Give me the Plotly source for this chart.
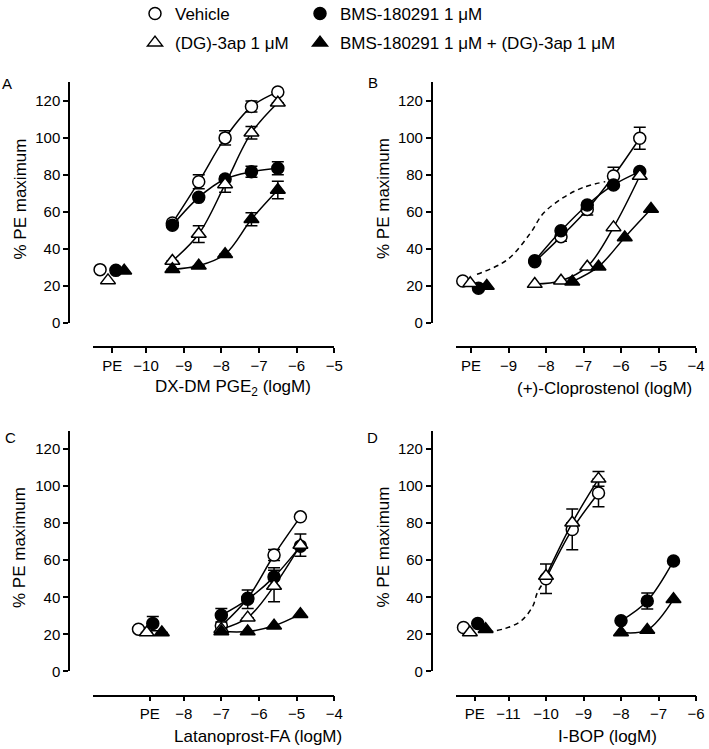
import plotly.graph_objects as go

W, H = 709, 749
FONT = "Liberation Sans, Arial, sans-serif"

# ---------------- data (x in log M, y in % PE maximum) ----------------
SERIES = ["Vehicle", "BMS-180291 1 μM", "(DG)-3ap 1 μM",
          "BMS-180291 1 μM + (DG)-3ap 1 μM"]

# Panel A: DX-DM PGE2
A_X = [-9.3, -8.6, -7.9, -7.2, -6.5]
A_PE_X = [-11.22, -10.80, -11.01, -10.58]      # vehicle, BMS, DG, BMS+DG
A_PE_Y = [28.8, 28.4, 23.0, 28.2]
A_VEH = [54.0, 76.2, 99.9, 116.8, 124.7]
A_VEH_E = [None, 3.8, 3.9, 3.0, None]
A_BMS = [52.7, 67.8, 77.7, 81.6, 83.5]
A_BMS_E = [None, None, None, 3.0, 3.5]
A_DG = [33.5, 48.0, 74.8, 102.7, 118.9]
A_DG_E = [None, 4.5, 4.2, 3.4, None]
A_CMB = [29.0, 30.9, 37.1, 56.0, 71.8]
A_CMB_E = [None, None, None, 3.5, 4.7]

# Panel B: (+)-Cloprostenol
B_X = [-8.3, -7.6, -6.9, -6.2, -5.5]
B_CMB_X = [-7.3, -6.6, -5.9, -5.2]
B_PE_X = [-10.22, -9.80, -10.02, -9.58]
B_PE_Y = [22.7, 18.7, 21.4, 20.0]
B_VEH = [33.0, 46.6, 61.3, 79.3, 99.7]
B_VEH_E = [None, 2.5, 3.0, 4.7, 6.0]
B_BMS = [33.6, 49.8, 63.7, 74.5, 81.7]
B_DG = [21.0, 22.8, 30.4, 51.6, 79.3]
B_CMB = [22.3, 30.4, 46.2, 61.5]
B_DASH_X = [-9.84, -9.04, -8.42, -8.07, -7.53, -7.0, -6.42]
B_DASH_Y = [26.3, 34.0, 48.4, 59.2, 67.8, 73.2, 76.3]

# Panel C: Latanoprost-FA
C_X = [-7.0, -6.3, -5.6, -4.9]
C_PE_X = [-9.2, -8.82, -8.98, -8.58]
C_PE_Y = [22.8, 25.8, 21.0, 21.0]
C_PE_E = [None, 3.8, None, None]
C_VEH = [24.6, 39.5, 62.8, 83.4]
C_VEH_E = [None, None, 3.0, None]
C_BMS = [30.3, 38.9, 51.0, 67.6]
C_BMS_E = [3.6, 5.0, 5.0, None]
C_DG = [22.8, 29.0, 46.1, 68.2]
C_DG_E = [None, None, 8.5, 6.0]
C_CMB = [21.5, 21.5, 24.6, 30.9]

# Panel D: I-BOP
D_X_OPEN = [-10.0, -9.3, -8.6]
D_X_FILLED = [-8.0, -7.3, -6.6]
D_PE_X = [-12.2, -11.82, -12.03, -11.61]
D_PE_Y = [23.7, 25.8, 21.0, 22.8]
D_VEH = [50.0, 76.6, 96.3]
D_VEH_E = [8.0, 11.0, 7.5]
D_BMS = [27.3, 38.0, 59.6]
D_BMS_E = [None, 4.3, None]
D_DG = [51.5, 80.2, 103.9]
D_DG_E = [None, None, 4.0]
D_CMB = [21.0, 22.4, 38.9]
D_DASH_X = [-11.55, -11.1, -10.66, -10.35, -10.23, -10.0]
D_DASH_Y = [21.3, 23.1, 27.3, 35.3, 42.5, 50.0]

# axis tick definitions
A_TICKS = [-10, -9, -8, -7, -6, -5]
B_TICKS = [-9, -8, -7, -6, -5, -4]
C_TICKS = [-8, -7, -6, -5, -4]
D_TICKS = [-11, -10, -9, -8, -7, -6]
PE_TICK = {"A": -10.9, "B": -10.0, "C": -8.9, "D": -11.9}
Y_TICKS = [0, 20, 40, 60, 80, 100, 120]

# ---------------- style ----------------
MARK = [
    dict(symbol="circle", color="white", size=12, line=dict(color="black", width=1.5)),
    dict(symbol="circle", color="black", size=12, line=dict(color="black", width=1.5)),
    dict(symbol="triangle-up", color="white", size=13, line=dict(color="black", width=1.5)),
    dict(symbol="triangle-up", color="black", size=13, line=dict(color="black", width=1.5)),
]


def px(v):
    """pixel x -> paper fraction"""
    return v / W


def py(v):
    """pixel y (from top) -> paper fraction"""
    return 1 - v / H


fig = go.Figure()


def err(vals):
    if vals is None:
        return None
    return dict(type="data", array=vals, visible=True, color="black",
                thickness=1.5, width=6)


def curve(ax, x, y, k, e=None, line=True):
    fig.add_trace(go.Scatter(
        x=x, y=y, xaxis="x" + ax, yaxis="y" + ax,
        mode="lines+markers" if line else "markers",
        line=dict(color="black", width=1.5, shape="spline"),
        marker=MARK[k], error_y=err(e), cliponaxis=False,
        showlegend=False, hoverinfo="x+y"))


def dashed(ax, x, y):
    fig.add_trace(go.Scatter(
        x=x, y=y, xaxis="x" + ax, yaxis="y" + ax, mode="lines",
        line=dict(color="black", width=1.5, dash="5px,4px", shape="spline"),
        showlegend=False, hoverinfo="skip"))


panels = {
    "": dict(pe_x=A_PE_X, pe_y=A_PE_Y, pe_e=None,
             ys=[A_VEH, A_BMS, A_DG, A_CMB], es=[A_VEH_E, A_BMS_E, A_DG_E, A_CMB_E],
             xs=[A_X, A_X, A_X, A_X]),
    "2": dict(pe_x=B_PE_X, pe_y=B_PE_Y, pe_e=None,
              ys=[B_VEH, B_BMS, B_DG, B_CMB], es=[B_VEH_E, None, None, None],
              xs=[B_X, B_X, B_X, B_CMB_X]),
    "3": dict(pe_x=C_PE_X, pe_y=C_PE_Y, pe_e=C_PE_E,
              ys=[C_VEH, C_BMS, C_DG, C_CMB], es=[C_VEH_E, C_BMS_E, C_DG_E, None],
              xs=[C_X, C_X, C_X, C_X]),
    "4": dict(pe_x=D_PE_X, pe_y=D_PE_Y, pe_e=None,
              ys=[D_VEH, D_BMS, D_DG, D_CMB], es=[D_VEH_E, D_BMS_E, D_DG_E, None],
              xs=[D_X_OPEN, D_X_FILLED, D_X_OPEN, D_X_FILLED]),
}

dashed("2", B_DASH_X, B_DASH_Y)
dashed("4", D_DASH_X, D_DASH_Y)

for ax, p in panels.items():
    for k in range(4):
        pe_e = None if p["pe_e"] is None else [p["pe_e"][k]]
        curve(ax, [p["pe_x"][k]], [p["pe_y"][k]], k, pe_e, line=False)
        curve(ax, p["xs"][k], p["ys"][k], k, p["es"][k])

# legend-only entries
for k in range(4):
    fig.add_trace(go.Scatter(
        x=[None], y=[None], mode="markers", marker=MARK[k], name=SERIES[k],
        legend="legend" if k in (0, 2) else "legend2",
        legendgroup="g%d" % k, showlegend=True))

# ---------------- axes ----------------
AXC = dict(showline=True, linecolor="black", linewidth=1.5, ticks="outside",
           ticklen=5, tickwidth=1.5, tickcolor="black", showgrid=False,
           zeroline=False, tickfont=dict(family=FONT, size=15, color="black"),
           anchor="free", fixedrange=True)


def tt(ticks):
    return ["PE"] + ["\u2212%d" % abs(t) for t in ticks]


geo = {
    # name: (x domain px, x range, x-line py, y-axis px, y domain py (bottom, top), ticks, pe)
    "": ((93.3, 334.3), [-11.4, -5], 347.3, 69, (323, 82.1), A_TICKS, PE_TICK["A"]),
    "2": ((456, 696), [-10.4, -4], 347.3, 431.7, (323, 82.1), B_TICKS, PE_TICK["B"]),
    "3": ((93.3, 334.3), [-10.4, -4], 695.7, 69, (671.4, 430.5), C_TICKS, PE_TICK["C"]),
    "4": ((456, 696), [-12.4, -6], 695.7, 431.7, (671.4, 430.5), D_TICKS, PE_TICK["D"]),
}

for ax, (xd, xr, xl, yl, yd, ticks, pe) in geo.items():
    fig.layout["xaxis" + ax] = dict(
        AXC, domain=[px(xd[0]), px(xd[1])], range=xr, position=py(xl),
        tickvals=[pe] + ticks, ticktext=tt(ticks))
    fig.layout["yaxis" + ax] = dict(
        AXC, domain=[py(yd[0]), py(yd[1])], range=[0, 130], position=px(yl),
        tickvals=Y_TICKS)

# ---------------- annotations ----------------
ann = []


def text(x, y, s, size=17, angle=0):
    ann.append(dict(x=px(x), y=py(y), xref="paper", yref="paper", text=s,
                    showarrow=False, textangle=angle, xanchor="center",
                    yanchor="middle", font=dict(family=FONT, size=size, color="black")))


for ax_y in (199, 547.5):
    text(19.5, ax_y, "% PE maximum", angle=-90)
    text(383, ax_y, "% PE maximum", angle=-90)

text(233, 388, "DX-DM PGE<sub>2</sub> (logM)")
text(604, 388, "(+)-Cloprostenol (logM)")
text(257.5, 736, "Latanoprost-FA (logM)")
text(607, 736, "I-BOP (logM)")

text(7, 83, "A", size=15)
text(373, 82.5, "B", size=15)
text(10, 437, "C", size=15)
text(372, 437, "D", size=15)

LEG = dict(xanchor="left", yanchor="top", bgcolor="rgba(0,0,0,0)",
           font=dict(family=FONT, size=17, color="black"),
           tracegroupgap=4, traceorder="grouped", itemclick=False,
           itemdoubleclick=False)

fig.update_layout(
    width=W, height=H, margin=dict(l=0, r=0, t=0, b=0, autoexpand=False),
    paper_bgcolor="white", plot_bgcolor="white",
    font=dict(family=FONT, size=15, color="black"),
    annotations=ann,
    legend=dict(LEG, x=px(135), y=py(-4)),
    legend2=dict(LEG, x=px(300), y=py(-4)),
    showlegend=True,
)

# remove the browser's default 8 px body margin so the figure fills the window
fig.write_html("out.html", config={"displayModeBar": False},
               post_script="document.body.style.margin='0';")
